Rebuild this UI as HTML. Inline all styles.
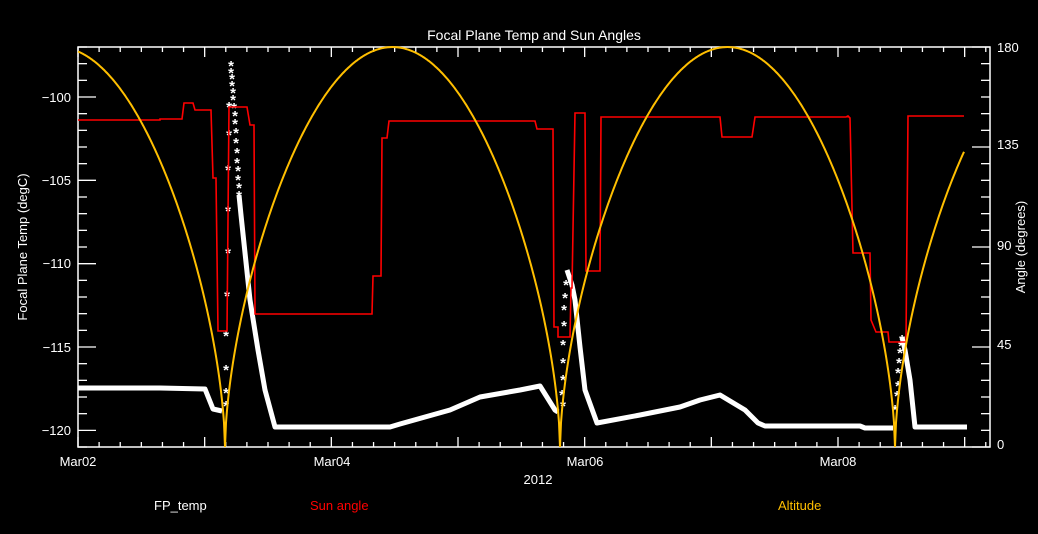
<!DOCTYPE html>
<html><head><meta charset="utf-8"><style>
html,body{margin:0;padding:0;background:#000;}
svg{display:block;}
text{font-family:"Liberation Sans",sans-serif;}
</style></head><body>
<svg id="s" width="1038" height="534" xmlns="http://www.w3.org/2000/svg">
<rect width="1038" height="534" fill="#000"/>
<g id="ticks" stroke="#fff" stroke-width="1.3"></g>
<rect x="78" y="47" width="912" height="400" fill="none" stroke="#fff" stroke-width="1.5"/>
<text x="534" y="40" fill="#fff" font-size="14" text-anchor="middle">Focal Plane Temp and Sun Angles</text>
<g fill="#fff" font-size="13" text-anchor="end">
<text x="71" y="102">−100</text><text x="71" y="185">−105</text><text x="71" y="268">−110</text>
<text x="71" y="352">−115</text><text x="71" y="435">−120</text>
</g>
<g fill="#fff" font-size="13" text-anchor="start">
<text x="997" y="52">180</text><text x="997" y="149">135</text><text x="997" y="250">90</text>
<text x="997" y="349">45</text><text x="997" y="449">0</text>
</g>
<text transform="translate(27,247) rotate(-90)" fill="#fff" font-size="13" text-anchor="middle">Focal Plane Temp (degC)</text>
<text transform="translate(1025,247) rotate(-90)" fill="#fff" font-size="13" text-anchor="middle">Angle (degrees)</text>
<g fill="#fff" font-size="13" text-anchor="middle">
<text x="78" y="466">Mar02</text><text x="332" y="466">Mar04</text>
<text x="585" y="466">Mar06</text><text x="838" y="466">Mar08</text>
<text x="538" y="484">2012</text>
</g>
<text x="154" y="510" fill="#fff" font-size="13">FP_temp</text>
<text x="310" y="510" fill="#f00" font-size="13">Sun angle</text>
<text x="778" y="510" fill="#ffbf00" font-size="13">Altitude</text>

<g fill="none" stroke="#fff" stroke-width="5" stroke-linejoin="round">
<polyline points="78,388 160,388 205,389 213,409 222,411"/>
<polyline points="239,195 241,215 250,300 258,350 265,390 275,427 340,427 390,427 400,424 450,410 480,397 520,390 540,386 555,410 558,412"/>
<polyline points="567,270 572,285 575,300 580,347 585,390 597,423 640,415 680,407 700,400 720,395 745,410 758,423 765,426 860,426 865,428 893,428"/>
<polyline points="902,337 905,350 910,380 915,427 967,427"/>
</g>
<g id="ast" fill="#fff" font-size="15" font-weight="bold" text-anchor="middle"></g>

<polyline fill="none" stroke="#f00" stroke-width="1.6" points="
78,120 160,120 160,119 182,119 184,103 193,103 195,110 211,110 213,178 216,178 218,331 227,331 229,107 247,107 250,125 254,125 255,314 372,314 373,276 381,276 382,138 387,138 389,121 535,121 537,129 553,129 554,327 558,327 558,337 570,337 571,288 572,288 575,113 585,113 586,271 600,271 601,117 720,117 722,137 752,137 755,117 846,117 848,116 850,118 853,253 870,253 871,320 876,332 888,332 889,342 906,342 908,116 964,116"/>
<polyline id="alt" fill="none" stroke="#ffbf00" stroke-width="2"/>
</svg>
<script>
var t=document.getElementById('ticks'),s='';
function L(a,b,c,d){s+='<line x1="'+a+'" y1="'+b+'" x2="'+c+'" y2="'+d+'"/>';}
for(var i=0;i<=24;i++){var y=47+i*16.667;var m=(i%5==3);L(78,y,m?96:87,y);}
for(var i=0;i<=24;i++){var y=447-i*16.667;var m=(i%6==0);L(990,y,m?972:981,y);}
for(var i=0;i<=43;i++){var x=78+i*21.111;if(x>990)break;var m=(i%6==0);L(x,447,x,m?437:442);L(x,47,x,m?57:52);}
t.innerHTML=s;
var p=[],zs=[225,560,895];
for(var x=78;x<=964;x+=1){var d=1e9;for(var k=0;k<3;k++)d=Math.min(d,Math.abs(x-zs[k]));var u=Math.min(d/167.5,1);var a=180*Math.pow(Math.sin(u*Math.PI/2),0.6);p.push(x+','+(447-a*2.222).toFixed(1));}
document.getElementById('alt').setAttribute('points',p.join(' '));
var A=[[226,403],[226,390],[226,367],[226,333],[227,293],[228,250],[228,208],[228,167],[229,132],[229,104],
[231,63],[231,70],[232,76],[232,83],[233,90],[233,97],[234,105],[235,113],[235,121],[236,130],[236,140],[237,150],[237,160],[238,168],[238,177],[239,185],[239,193],
[563,403],[562,392],[563,377],[563,360],[563,342],[564,323],[564,307],[565,295],[566,282],
[895,407],[897,393],[898,383],[898,370],[899,360],[900,350],[901,343],[902,337]];
var h='';A.forEach(function(q){h+='<text x="'+q[0]+'" y="'+(q[1]+8)+'">*</text>';});
document.getElementById('ast').innerHTML=h;
</script>
</body></html>
